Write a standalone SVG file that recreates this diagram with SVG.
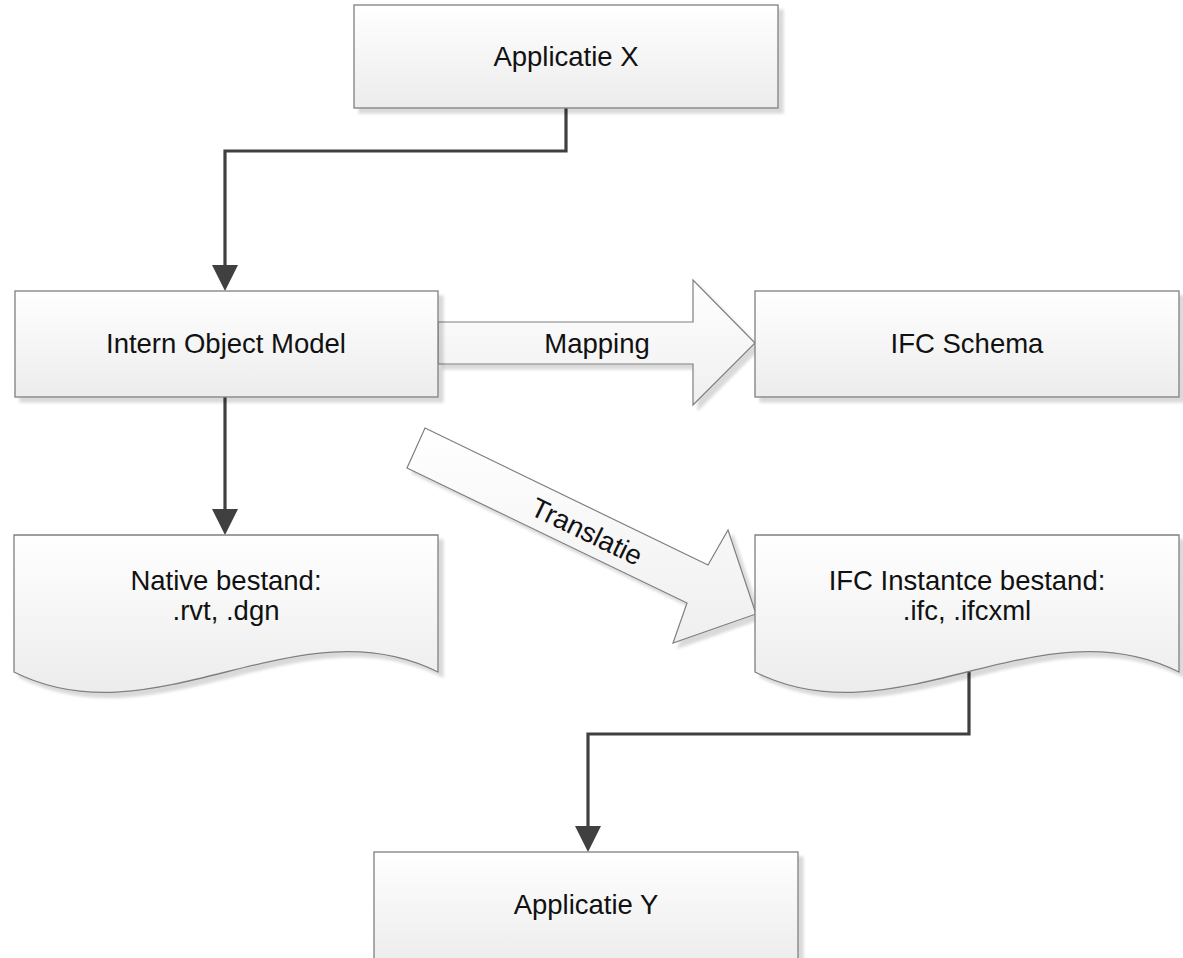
<svg xmlns="http://www.w3.org/2000/svg" width="1183" height="958" viewBox="0 0 1183 958">
<defs>
<linearGradient id="g" x1="0" y1="0" x2="0" y2="1">
<stop offset="0" stop-color="#ffffff"/>
<stop offset="1" stop-color="#ececec"/>
</linearGradient>
<linearGradient id="ga" x1="0" y1="0" x2="0" y2="1">
<stop offset="0" stop-color="#ffffff"/>
<stop offset="1" stop-color="#efefef"/>
</linearGradient>
<filter id="sh" x="-5%" y="-10%" width="115%" height="130%">
<feGaussianBlur in="SourceAlpha" stdDeviation="1.5"/>
<feOffset dx="5" dy="5" result="o"/>
<feComponentTransfer><feFuncA type="linear" slope="0.15"/></feComponentTransfer>
<feMerge><feMergeNode/><feMergeNode in="SourceGraphic"/></feMerge>
</filter>
<marker id="ah" markerUnits="userSpaceOnUse" markerWidth="28" markerHeight="28" viewBox="0 -14 28 28" refX="0" refY="0" orient="auto">
<path d="M0,-13 L26,0 L0,13 z" fill="#404040"/>
</marker>
</defs>
<style>
.box{fill:url(#g);stroke:#7f7f7f;stroke-width:1.3;filter:url(#sh)}
.blk{fill:url(#ga);stroke:#7f7f7f;stroke-width:1.2;filter:url(#sh)}
.lbl{font-family:"Liberation Sans",Arial,sans-serif;font-size:27.5px;fill:#111111;text-anchor:middle}
.con{fill:none;stroke:#404040;stroke-width:3.2;marker-end:url(#ah)}
</style>
<rect width="1183" height="958" fill="#ffffff"/>

<g id="connectors">
<path class="con" d="M566,108 V151 H225 V265"/>
<path class="con" d="M225,397 V509"/>
<path class="con" d="M969,672 V734 H588 V826"/>
</g>

<g id="mapping">
<polygon class="blk" points="438,322 693,322 693,280 755,343 693,405 693,364 438,364"/>
<text class="lbl" x="597" y="353">Mapping</text>
</g>

<g id="translatie">
<polygon class="blk" points="425,428 708,565 728,530 756,614 673,643 687,603 407,468"/>
<text class="lbl" transform="translate(587,531) rotate(25.8)" x="0" y="10">Translatie</text>
</g>

<g id="applicatie-x">
<rect class="box" x="354" y="5" width="424" height="103"/>
<text class="lbl" x="566" y="66">Applicatie X</text>
</g>

<g id="intern-object-model">
<rect class="box" x="15" y="291" width="423" height="106"/>
<text class="lbl" x="226" y="353">Intern Object Model</text>
</g>

<g id="ifc-schema">
<rect class="box" x="755" y="291" width="424" height="106"/>
<text class="lbl" x="967" y="353">IFC Schema</text>
</g>

<g id="native-bestand">
<path class="box" d="M14,535 H438 V672 C297,601 155,743 14,672 Z"/>
<text class="lbl" x="226" y="590">Native bestand:</text>
<text class="lbl" x="226" y="620">.rvt, .dgn</text>
</g>

<g id="ifc-instance-bestand">
<path class="box" d="M755,535 H1179 V672 C1038,601 896,743 755,672 Z"/>
<text class="lbl" x="967" y="590">IFC Instantce bestand:</text>
<text class="lbl" x="967" y="620">.ifc, .ifcxml</text>
</g>

<g id="applicatie-y">
<rect class="box" x="374" y="852" width="424" height="112"/>
<text class="lbl" x="586" y="914">Applicatie Y</text>
</g>
</svg>
